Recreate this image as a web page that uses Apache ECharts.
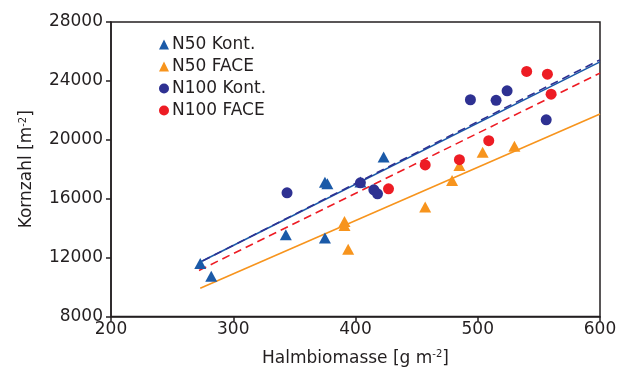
<!DOCTYPE html>
<html>
<head>
<meta charset="utf-8">
<script src="https://cdn.jsdelivr.net/npm/echarts@6/dist/echarts.min.js"></script>
<style>
  html, body { margin: 0; padding: 0; background: #fff; }
  #chart { width: 628px; height: 372px; }
</style>
</head>
<body>
<div id="chart"></div>
<script>
// Kornzahl vs. Halmbiomasse, N50 / N100 under control and FACE conditions
const xTicks = [200, 300, 400, 500, 600];
const yTicks = [8000, 12000, 16000, 20000, 24000, 28000];

const seriesNames = ['N50 Kont.', 'N50 FACE', 'N100 Kont.', 'N100 FACE'];

// [Halmbiomasse g m-2, Kornzahl m-2]
const n50Kont = [
  [273, 11600], [282, 10730], [343, 13550], [375, 13330],
  [375, 17120], [377, 17010], [404, 17140], [423, 18840]
];
const n50Face = [
  [391, 14450], [391, 14180], [394, 12560], [457, 15430],
  [479, 17230], [485, 18250], [504, 19150], [530, 19560]
];
const n100Kont = [
  [344, 16400], [404, 17080], [415, 16600], [418, 16330],
  [494, 22720], [515, 22680], [524, 23330], [556, 21360]
];
const n100Face = [
  [427, 16670], [457, 18290], [485, 18650], [509, 19940],
  [540, 24640], [557, 24460], [560, 23100]
];

// Regression lines (start and end of each fit)
const fitN50Kont = [[273, 11700], [600, 25290]];
const fitN50Face = [[273, 9920], [600, 21750]];
const fitN100Kont = [[275, 11780], [600, 25430]];
const fitN100Face = [[272, 11130], [600, 24530]];

const colors = {
  n50Kont: '#1b5aa8',
  n50Face: '#f7941d',
  n100Kont: '#2e3192',
  n100Face: '#ed1c24'
};

const textColor = '#231f20';
const fontFamily = 'DejaVu Sans, Verdana, sans-serif';

const chart = echarts.init(document.getElementById('chart'));

function scatter(name, data, symbol, color, size) {
  return {
    name: name,
    type: 'scatter',
    data: data,
    symbol: symbol,
    symbolSize: size,
    itemStyle: { color: color, opacity: 1 },
    z: 5,
    emphasis: { disabled: true }
  };
}

function fitLine(data, color, dashed) {
  return {
    type: 'line',
    data: data,
    showSymbol: false,
    symbol: 'none',
    lineStyle: { color: color, width: 1.6, type: dashed ? [8, 5] : 'solid' },
    z: 3,
    silent: true,
    animation: false
  };
}

const nameRich = {
  a: { fontSize: 17, fontFamily: fontFamily, color: textColor },
  s: { fontSize: 10, fontFamily: fontFamily, color: textColor, verticalAlign: 'top', padding: [0, 0, 8, 0] }
};

chart.setOption({
  animation: false,
  backgroundColor: '#fff',
  grid: {
    left: 111, right: 28, top: 22, bottom: 54,
    show: true, borderColor: '#231f20', borderWidth: 1.5
  },
  legend: {
    orient: 'vertical',
    left: 154, top: 31,
    itemWidth: 10, itemHeight: 10,
    itemGap: 5,
    data: seriesNames,
    textStyle: { color: textColor, fontSize: 17, fontFamily: fontFamily, padding: [0, 0, 0, -2] }
  },
  xAxis: {
    type: 'value',
    min: 200, max: 600, interval: 100,
    name: '{a|Halmbiomasse [g m}{s|-2}{a|]}',
    nameLocation: 'middle',
    nameGap: 33,
    nameTextStyle: { rich: nameRich },
    axisLine: { show: true, lineStyle: { color: '#231f20', width: 1.5 } },
    axisTick: { show: true, inside: false, length: 5, lineStyle: { color: '#231f20', width: 1.5 } },
    axisLabel: {
      margin: 5,
      color: textColor, fontSize: 17, fontFamily: fontFamily,
      formatter: v => xTicks.includes(v) ? String(v) : ''
    },
    splitLine: { show: false }
  },
  yAxis: {
    type: 'value',
    min: 8000, max: 28000, interval: 4000,
    name: '{a|Kornzahl [m}{s|-2}{a|]}',
    nameLocation: 'middle',
    nameGap: 75,
    nameTextStyle: { rich: nameRich },
    axisLine: { show: true, lineStyle: { color: '#231f20', width: 1.5 } },
    axisTick: { show: true, inside: false, length: 5, lineStyle: { color: '#231f20', width: 1.5 } },
    axisLabel: {
      margin: 8,
      color: textColor, fontSize: 17, fontFamily: fontFamily,
      formatter: v => yTicks.includes(v) ? String(v) : ''
    },
    splitLine: { show: false }
  },
  series: [
    fitLine(fitN50Face, colors.n50Face, false),
    fitLine(fitN100Face, colors.n100Face, true),
    fitLine(fitN50Kont, colors.n50Kont, false),
    fitLine(fitN100Kont, colors.n100Kont, true),
    scatter('N50 Kont.', n50Kont, 'triangle', colors.n50Kont, [12, 11]),
    scatter('N50 FACE', n50Face, 'triangle', colors.n50Face, [12, 11]),
    scatter('N100 Kont.', n100Kont, 'circle', colors.n100Kont, 11),
    scatter('N100 FACE', n100Face, 'circle', colors.n100Face, 11)
  ]
});
</script>
</body>
</html>
